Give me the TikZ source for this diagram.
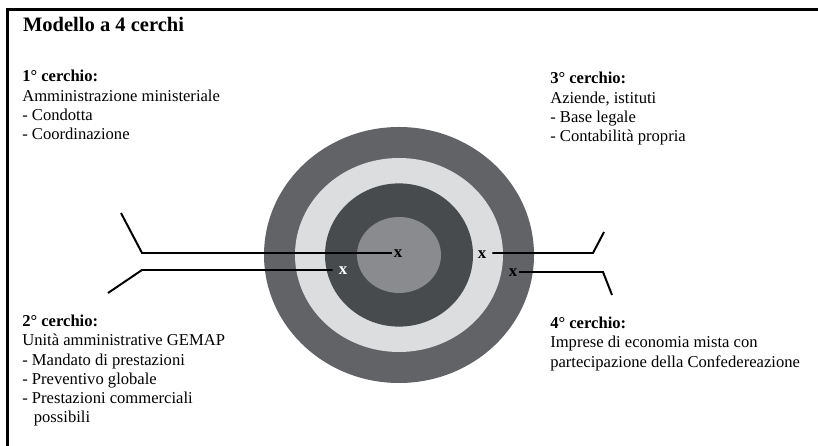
\documentclass[tikz,border=0pt]{standalone}
\usepackage{fontspec}
\setmainfont{Liberation Serif}
\definecolor{anelloD}{HTML}{626366}
\definecolor{anelloC}{HTML}{DCDDDF}
\definecolor{anelloB}{HTML}{484B4E}
\definecolor{anelloA}{HTML}{8A8B8E}
\begin{document}
\begin{tikzpicture}[
  testo/.style={anchor=north west, inner sep=0pt, align=left, font=\fontsize{11.8}{13.7}\selectfont},
  croce/.style={inner sep=1.2pt, font=\fontsize{12}{14}\selectfont\bfseries},
  filo/.style={line width=1.4pt}]
\useasboundingbox (0,0) rectangle (20.45,11.15);
% Cornice
\draw[line width=2.2pt] (0.19,0) -- (0.19,10.91) -- (20.45,10.91);
% Titolo
\node[testo, font=\fontsize{14.6}{17}\selectfont\bfseries] (titolo) at (0.57,10.72) {Modello a 4 cerchi};
% Cerchi concentrici
\fill[anelloD] (9.975,4.775) ellipse (3.375 and 3.2);
\fill[anelloC] (9.975,4.775) ellipse (2.6 and 2.425);
\fill[anelloB] (9.975,4.775) ellipse (1.85 and 1.79);
\fill[anelloA] (9.975,4.775) ellipse (1.05 and 0.95);
% Punti nei cerchi
\node[croce] (p1) at (9.95,4.8) {x};
\node[croce, white] (p2) at (8.575,4.38) {x};
\node[croce] (p3) at (12.05,4.78) {x};
\node[croce] (p4) at (12.825,4.33) {x};
% Linee verso le descrizioni
\coordinate (g1) at (3.55,4.825);  \coordinate (f1) at (3.025,5.825);
\coordinate (g2) at (3.55,4.4);    \coordinate (f2) at (2.7,3.825);
\coordinate (g3) at (14.825,4.825); \coordinate (f3) at (15.1,5.35);
\coordinate (g4) at (15.075,4.35);  \coordinate (f4) at (15.3,3.775);
\draw[filo] (p1.west |- g1) -- (g1) -- (f1);
\draw[filo] ([xshift=-3pt]p2.west |- g2) -- (g2) -- (f2);
\draw[filo] ([xshift=3pt]p3.east |- g3) -- (g3) -- (f3);
\draw[filo] (p4.east |- g4) -- (g4) -- (f4);
% Descrizioni
\node[testo] (c1) at (0.55,9.4) {\textbf{1° cerchio:}\\Amministrazione ministeriale\\- Condotta\\- Coordinazione};
\node[testo] (c2) at (0.55,3.28) {\textbf{2° cerchio:}\\Unità amministrative GEMAP\\- Mandato di prestazioni\\- Preventivo globale\\- Prestazioni commerciali\\\hspace*{0.7em}possibili};
\node[testo] (c3) at (13.75,9.35) {\textbf{3° cerchio:}\\Aziende, istituti\\- Base legale\\- Contabilità propria};
\node[testo] (c4) at (13.75,3.23) {\textbf{4° cerchio:}\\Imprese di economia mista con\\partecipazione della Confedereazione};
\end{tikzpicture}
\end{document}
